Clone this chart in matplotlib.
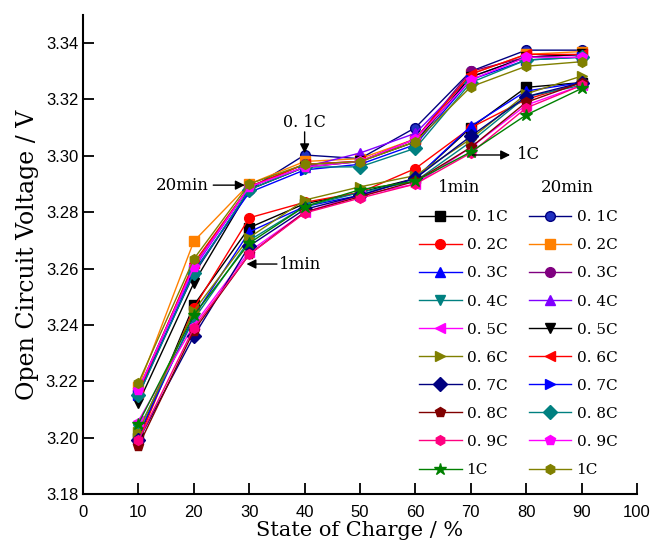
import matplotlib
matplotlib.use('Agg')
import matplotlib.pyplot as plt

# state of charge
soc = [10, 20, 30, 40, 50, 60, 70, 80, 90]
rates = ['0. 1C', '0. 2C', '0. 3C', '0. 4C', '0. 5C', '0. 6C', '0. 7C', '0. 8C', '0. 9C', '1C']

# open circuit voltage after 1 min rest
ocv_1min = [
    [3.200, 3.247, 3.2745, 3.283, 3.287, 3.292, 3.310, 3.3243, 3.326],
    [3.199, 3.246, 3.278, 3.2835, 3.287, 3.2955, 3.310, 3.320, 3.326],
    [3.201, 3.243, 3.273, 3.282, 3.286, 3.292, 3.3105, 3.323, 3.326],
    [3.203, 3.242, 3.270, 3.282, 3.287, 3.291, 3.305, 3.321, 3.325],
    [3.206, 3.240, 3.266, 3.280, 3.286, 3.290, 3.303, 3.318, 3.325],
    [3.202, 3.245, 3.271, 3.2843, 3.289, 3.293, 3.306, 3.322, 3.3283],
    [3.199, 3.236, 3.268, 3.281, 3.286, 3.292, 3.307, 3.321, 3.326],
    [3.197, 3.238, 3.265, 3.280, 3.2855, 3.291, 3.303, 3.319, 3.326],
    [3.199, 3.239, 3.265, 3.2797, 3.285, 3.290, 3.301, 3.317, 3.325],
    [3.205, 3.2435, 3.269, 3.282, 3.288, 3.291, 3.3014, 3.3145, 3.3239],
]

# open circuit voltage after 20 min rest
ocv_20min = [
    [3.216, 3.258, 3.288, 3.3003, 3.299, 3.310, 3.330, 3.3375, 3.3375],
    [3.218, 3.2697, 3.290, 3.298, 3.299, 3.306, 3.329, 3.336, 3.337],
    [3.217, 3.261, 3.289, 3.297, 3.298, 3.306, 3.330, 3.335, 3.336],
    [3.217, 3.260, 3.289, 3.296, 3.301, 3.308, 3.328, 3.335, 3.336],
    [3.2123, 3.2549, 3.288, 3.296, 3.298, 3.305, 3.328, 3.335, 3.336],
    [3.216, 3.262, 3.289, 3.297, 3.298, 3.306, 3.329, 3.336, 3.336],
    [3.215, 3.259, 3.287, 3.295, 3.297, 3.304, 3.327, 3.334, 3.335],
    [3.215, 3.2584, 3.288, 3.296, 3.2961, 3.3027, 3.326, 3.334, 3.335],
    [3.2169, 3.2606, 3.289, 3.296, 3.298, 3.306, 3.327, 3.335, 3.335],
    [3.2195, 3.2634, 3.290, 3.297, 3.2979, 3.305, 3.3245, 3.3318, 3.3334],
]

colors_1min = ['#000000', '#ff0000', '#0000ff', '#008080', '#ff00ff',
               '#808000', '#000080', '#800000', '#ff0080', '#008000']
markers_1min = ['s', 'o', '^', 'v', '<', '>', 'D', 'p', 'h', '*']
colors_20min = ['#000080', '#ff8000', '#800080', '#8000ff', '#000000',
                '#ff0000', '#0000ff', '#008080', '#ff00ff', '#808000']
markers_20min = ['o', 's', 'o', '^', 'v', '<', '>', 'D', 'p', 'h']

serif = 'DejaVu Serif'
plt.rcParams['font.family'] = 'Liberation Sans'

fig = plt.figure(figsize=(6.54, 5.45), dpi=100)
ax = fig.add_axes([0.127, 0.0936, 0.847, 0.879])

handles = []
for vals, c, m in zip(ocv_1min, colors_1min, markers_1min):
    ms = 9 if m == '*' else 7
    h, = ax.plot(soc, vals, color=c, marker=m, ms=ms, lw=1, mec=c)
    handles.append(h)
for i, (vals, c, m) in enumerate(zip(ocv_20min, colors_20min, markers_20min)):
    fc = '#2030c0' if i == 0 else c
    h, = ax.plot(soc, vals, color=c, marker=m, ms=7, lw=1, mfc=fc, mec=c)
    handles.append(h)

ax.set_xlim(0, 100)
ax.set_ylim(3.18, 3.35)
ax.set_xticks(range(0, 101, 10))
ax.set_yticks([3.18, 3.20, 3.22, 3.24, 3.26, 3.28, 3.30, 3.32, 3.34])
ax.set_yticklabels(['%.2f' % v for v in ax.get_yticks()])
ax.tick_params(direction='in', length=8, width=1.3, labelsize=12)
ax.tick_params(axis='x', pad=8)
ax.spines['top'].set_visible(False)
ax.spines['right'].set_visible(False)
for s in ['left', 'bottom']:
    ax.spines[s].set_linewidth(1.5)

ax.set_xlabel('State of Charge / %', family=serif, fontsize=15, labelpad=1)
ax.set_ylabel('Open Circuit Voltage / V', family=serif, fontsize=17, labelpad=5)

leg = ax.legend(handles, rates + rates, ncol=2, loc='upper left',
                bbox_to_anchor=(0.606, 0.592), frameon=False, borderpad=0,
                borderaxespad=0, handlelength=2.8, handletextpad=0.33,
                labelspacing=0.92, columnspacing=1.4,
                prop={'family': serif, 'size': 11})

ax.text(67.9, 3.2889, '1min', family=serif, fontsize=12, ha='center', va='center')
ax.text(87.4, 3.2889, '20min', family=serif, fontsize=12, ha='center', va='center')

arrow = dict(arrowstyle='-|>', color='black', lw=1, mutation_scale=14,
             shrinkA=0, shrinkB=0)
ax.annotate('', xy=(40, 3.3009), xytext=(40, 3.3085), arrowprops=arrow)
ax.text(40, 3.3088, '0. 1C', family=serif, fontsize=11.5, ha='center', va='bottom')
ax.annotate('', xy=(77.1, 3.3003), xytext=(70.3, 3.3003), arrowprops=arrow)
ax.text(78.3, 3.3003, '1C', family=serif, fontsize=12, ha='left', va='center')
ax.annotate('', xy=(29.2, 3.2896), xytext=(23.5, 3.2896), arrowprops=arrow)
ax.text(22.6, 3.2896, '20min', family=serif, fontsize=12, ha='right', va='center')
ax.annotate('', xy=(29.5, 3.2616), xytext=(35.0, 3.2616), arrowprops=arrow)
ax.text(35.3, 3.2616, '1min', family=serif, fontsize=12, ha='left', va='center')

fig.savefig('out.png', dpi=100)
